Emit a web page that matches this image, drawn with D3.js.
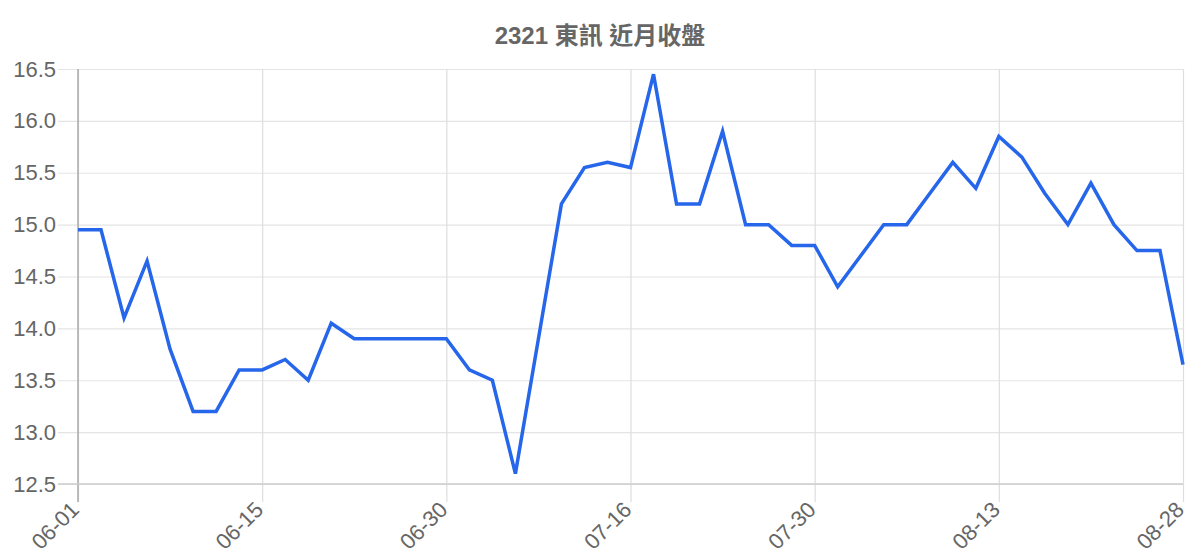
<!DOCTYPE html>
<html>
<head>
<meta charset="utf-8">
<script src="https://cdn.jsdelivr.net/npm/d3@7"></script>
<style>
  body { margin: 0; background: #fff; }
  svg { display: block; font-family: "Liberation Sans", Arial, "Noto Sans CJK TC", sans-serif; }
</style>
</head>
<body>
<div id="chart"></div>
<script>
// chart title
const title = "2321 東訊 近月收盤";

// trading dates (x categories)
const dates = [
  "06-01", "06-02", "06-03", "06-04", "06-07", "06-08", "06-09", "06-11", "06-15",
  "06-16", "06-17", "06-18", "06-21", "06-22", "06-24", "06-28", "06-30",
  "07-01", "07-02", "07-05", "07-06", "07-08", "07-12", "07-14", "07-16",
  "07-19", "07-20", "07-21", "07-22", "07-23", "07-26", "07-28", "07-30",
  "08-02", "08-03", "08-04", "08-05", "08-06", "08-09", "08-11", "08-13",
  "08-16", "08-17", "08-18", "08-19", "08-20", "08-23", "08-25", "08-28"
];

// near-month closing prices
const closes = [
  14.95, 14.95, 14.1, 14.65, 13.8, 13.2, 13.2, 13.6, 13.6,
  13.7, 13.5, 14.05, 13.9, 13.9, 13.9, 13.9, 13.9,
  13.6, 13.5, 12.6, 13.9, 15.2, 15.55, 15.6, 15.55,
  16.45, 15.2, 15.2, 15.9, 15.0, 15.0, 14.8, 14.8,
  14.4, 14.7, 15.0, 15.0, 15.3, 15.6, 15.35, 15.85,
  15.65, 15.3, 15.0, 15.4, 15.0, 14.75, 14.75, 13.65
];

// labelled x ticks and y ticks
const xTickLabels = ["06-01", "06-15", "06-30", "07-16", "07-30", "08-13", "08-28"];
const yTicks = [12.5, 13.0, 13.5, 14.0, 14.5, 15.0, 15.5, 16.0, 16.5];

const W = 1200, H = 560;
const margin = {top: 69, right: 17, bottom: 76, left: 78};
const width = W - margin.left - margin.right,
      height = H - margin.top - margin.bottom;

const svg = d3.select("#chart").append("svg")
    .attr("width", W)
    .attr("height", H);

svg.append("text")
    .attr("x", W / 2)
    .attr("y", 44)
    .attr("text-anchor", "middle")
    .attr("font-size", 24)
    .attr("font-weight", "bold")
    .attr("fill", "#666")
    .text(title);

const g = svg.append("g")
    .attr("transform", `translate(${margin.left},${margin.top})`);

const x = d3.scalePoint()
    .domain(dates)
    .range([0, width]);

const y = d3.scaleLinear()
    .domain([12.5, 16.5])
    .range([height, 0]);

// horizontal grid + y labels
const yAxis = g.append("g")
    .call(d3.axisLeft(y).tickValues(yTicks).tickFormat(d3.format(".1f"))
      .tickSize(-width - 20).tickPadding(2))
    .attr("transform", "translate(-20,0)");
yAxis.select(".domain").remove();
yAxis.selectAll(".tick line").attr("stroke", "#e4e4e4").attr("stroke-width", 1.2);
yAxis.selectAll(".tick text")
    .attr("fill", "#666")
    .attr("font-size", 22)
    .attr("font-family", "Liberation Sans, Arial, sans-serif");

// vertical grid + rotated x labels
const xAxis = g.append("g")
    .attr("transform", `translate(0,${height + 18})`)
    .call(d3.axisBottom(x).tickValues(xTickLabels).tickSize(height + 18).tickSizeOuter(0));
xAxis.select(".domain").remove();
xAxis.selectAll(".tick line")
    .attr("y1", 0)
    .attr("y2", -height - 18)
    .attr("stroke", "#dedede")
    .attr("stroke-width", 1.2);
xAxis.selectAll(".tick text")
    .attr("fill", "#666")
    .attr("font-size", 22)
    .attr("font-family", "Liberation Sans, Arial, sans-serif")
    .attr("text-anchor", "end")
    .attr("y", 0)
    .attr("dy", 0)
    .attr("transform", "translate(2,9) rotate(-45)");

// axis borders
g.append("line")
    .attr("x1", 0).attr("x2", 0)
    .attr("y1", 0).attr("y2", height + 18)
    .attr("stroke", "#aaa").attr("stroke-width", 1.5);
g.append("line")
    .attr("x1", -20).attr("x2", width)
    .attr("y1", height).attr("y2", height)
    .attr("stroke", "#ccc").attr("stroke-width", 1.5);

const line = d3.line()
    .x((d, i) => x(dates[i]))
    .y(d => y(d));

g.append("path")
    .datum(closes)
    .attr("fill", "none")
    .attr("stroke", "#2666ea")
    .attr("stroke-width", 3.5)
    .attr("stroke-linejoin", "miter")
    .attr("d", line);
</script>
</body>
</html>
